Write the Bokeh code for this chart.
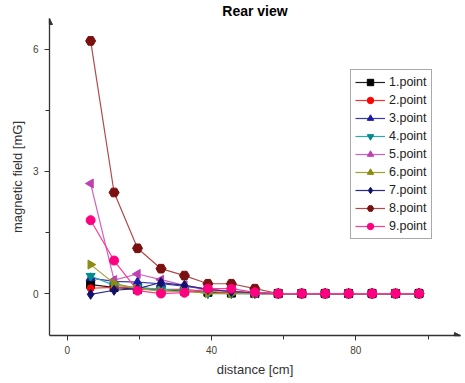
from bokeh.plotting import figure
from bokeh.models import Range1d, FixedTicker, Legend, LegendItem, Arrow, NormalHead
from bokeh.embed import file_html
from bokeh.resources import INLINE

distance = [6.5, 13, 19.5, 26, 32.5, 39, 45.5, 52, 58.5, 65, 71.5, 78, 84.5, 91, 97.5]

p1 = [0.22, 0.15, 0.10, 0.10, 0.06, 0.03, 0.01, 0, 0, 0, 0, 0, 0, 0, 0]
p2 = [0.13, 0.15, 0.14, 0.10, 0.10, 0.05, 0.02, 0, 0, 0, 0, 0, 0, 0, 0]
p3 = [0.38, 0.30, 0.28, 0.24, 0.18, 0.10, 0.05, 0.01, 0, 0, 0, 0, 0, 0, 0]
p4 = [0.43, 0.20, 0.15, 0.10, 0.08, 0.0, 0.0, 0, 0, 0, 0, 0, 0, 0, 0]
p5 = [2.70, 0.33, 0.48, 0.34, 0.20, 0.10, 0.05, 0.01, 0, 0, 0, 0, 0, 0, 0]
p6 = [0.71, 0.25, 0.12, 0.06, 0.05, 0.01, 0.0, 0, 0, 0, 0, 0, 0, 0, 0]
p7 = [-0.02, 0.08, 0.12, 0.27, 0.20, 0.10, 0.05, 0.02, 0, 0, 0, 0, 0, 0, 0]
p8 = [6.20, 2.48, 1.11, 0.61, 0.44, 0.24, 0.24, 0.12, 0, 0, 0, 0, 0, 0, 0]
p9 = [1.80, 0.81, 0.07, 0.0, 0.02, 0.12, 0.12, 0.03, 0, 0, 0, 0, 0, 0, 0]

series_names = ["1.point", "2.point", "3.point", "4.point", "5.point",
                "6.point", "7.point", "8.point", "9.point"]
series_values = [p1, p2, p3, p4, p5, p6, p7, p8, p9]
colors = ["#000000", "#ff0000", "#1a1aa6", "#008c8c", "#c040b0",
          "#8c8c10", "#10106e", "#7a1010", "#ff0080"]
line_colors = ["#202020", "#ff3030", "#3a3ab0", "#30a8a8", "#d060c0",
               "#a0a030", "#2a2a90", "#b04a4a", "#ff3a90"]
markers = ["square", "circle", "triangle", "inverted_triangle", "triangle",
           "triangle", "diamond", "hex", "circle"]
angles = [0, 0, 0, 0, 1.5708, -1.5708, 0, 0, 0]
sizes = [8, 7, 9, 9, 9, 9, 10, 10, 9]

x_ticks = [0, 40, 80]
x_minor = [20, 60, 100]
y_ticks = [0, 3, 6]
y_minor = [1.5, 4.5]

p = figure(width=465, height=383, output_backend="svg", toolbar_location=None,
           x_range=Range1d(-4.9, 109), y_range=Range1d(-1.03, 6.75),
           min_border_left=49, min_border_right=5, min_border_top=18,
           min_border_bottom=48, title="Rear view")
p.title.align = "center"
p.title.text_font = "Liberation Sans"
p.title.text_font_size = "14px"
p.title.text_font_style = "bold"
p.title.text_color = "#000000"
p.title.standoff = 0
p.title.offset = 0
p.outline_line_color = None
p.grid.visible = False
p.background_fill_color = "white"
p.border_fill_color = "white"

for ax in (p.xaxis[0], p.yaxis[0]):
    ax.axis_line_color = "#333333"
    ax.axis_line_width = 1.3
    ax.major_tick_line_color = "#333333"
    ax.minor_tick_line_color = "#333333"
    ax.major_tick_out = 5
    ax.major_tick_in = 0
    ax.minor_tick_out = 4
    ax.minor_tick_in = 0
    ax.major_label_text_font = "Liberation Sans"
    ax.major_label_text_font_size = "10px"
    ax.major_label_text_color = "#4a4030"
    ax.axis_label_text_font = "Liberation Sans"
    ax.axis_label_text_font_size = "13px"
    ax.axis_label_text_font_style = "normal"
    ax.axis_label_text_color = "#333333"

p.xaxis.ticker = FixedTicker(ticks=x_ticks, minor_ticks=x_minor)
p.yaxis.ticker = FixedTicker(ticks=y_ticks, minor_ticks=y_minor)
p.xaxis.axis_label = "distance [cm]"
p.yaxis.axis_label = "magnetic field [mG]"
p.yaxis.major_label_standoff = 6

items = []
for name, vals, c, lc, m, a, s in zip(series_names, series_values, colors,
                                      line_colors, markers, angles, sizes):
    ln = p.line(distance, vals, line_color=lc, line_width=1.2)
    sc = p.scatter(distance, vals, marker=m, angle=a, size=s,
                   fill_color=c, line_color=c)
    items.append(LegendItem(label=name, renderers=[ln, sc]))

legend = Legend(items=items, location=(301, 96))
legend.label_text_font = "Liberation Sans"
legend.label_text_font_size = "12.5px"
legend.label_text_color = "#222222"
legend.border_line_color = "#555555"
legend.border_line_width = 1.2
legend.padding = 4
legend.spacing = 2
legend.margin = 0
legend.glyph_height = 16
legend.glyph_width = 30
legend.label_height = 16
legend.label_standoff = 4
legend.background_fill_alpha = 1
p.add_layout(legend)

# axis end arrowheads
p.add_layout(Arrow(end=NormalHead(size=6, fill_color="#333333", line_color="#333333"),
                   x_start=-4.9, y_start=6.6, x_end=-4.9, y_end=6.75,
                   line_color="#333333", line_width=1.3))
p.add_layout(Arrow(end=NormalHead(size=6, fill_color="#333333", line_color="#333333"),
                   x_start=107, y_start=-1.03, x_end=109, y_end=-1.03,
                   line_color="#333333", line_width=1.3))

open("out.html", "w").write(file_html(p, INLINE))
